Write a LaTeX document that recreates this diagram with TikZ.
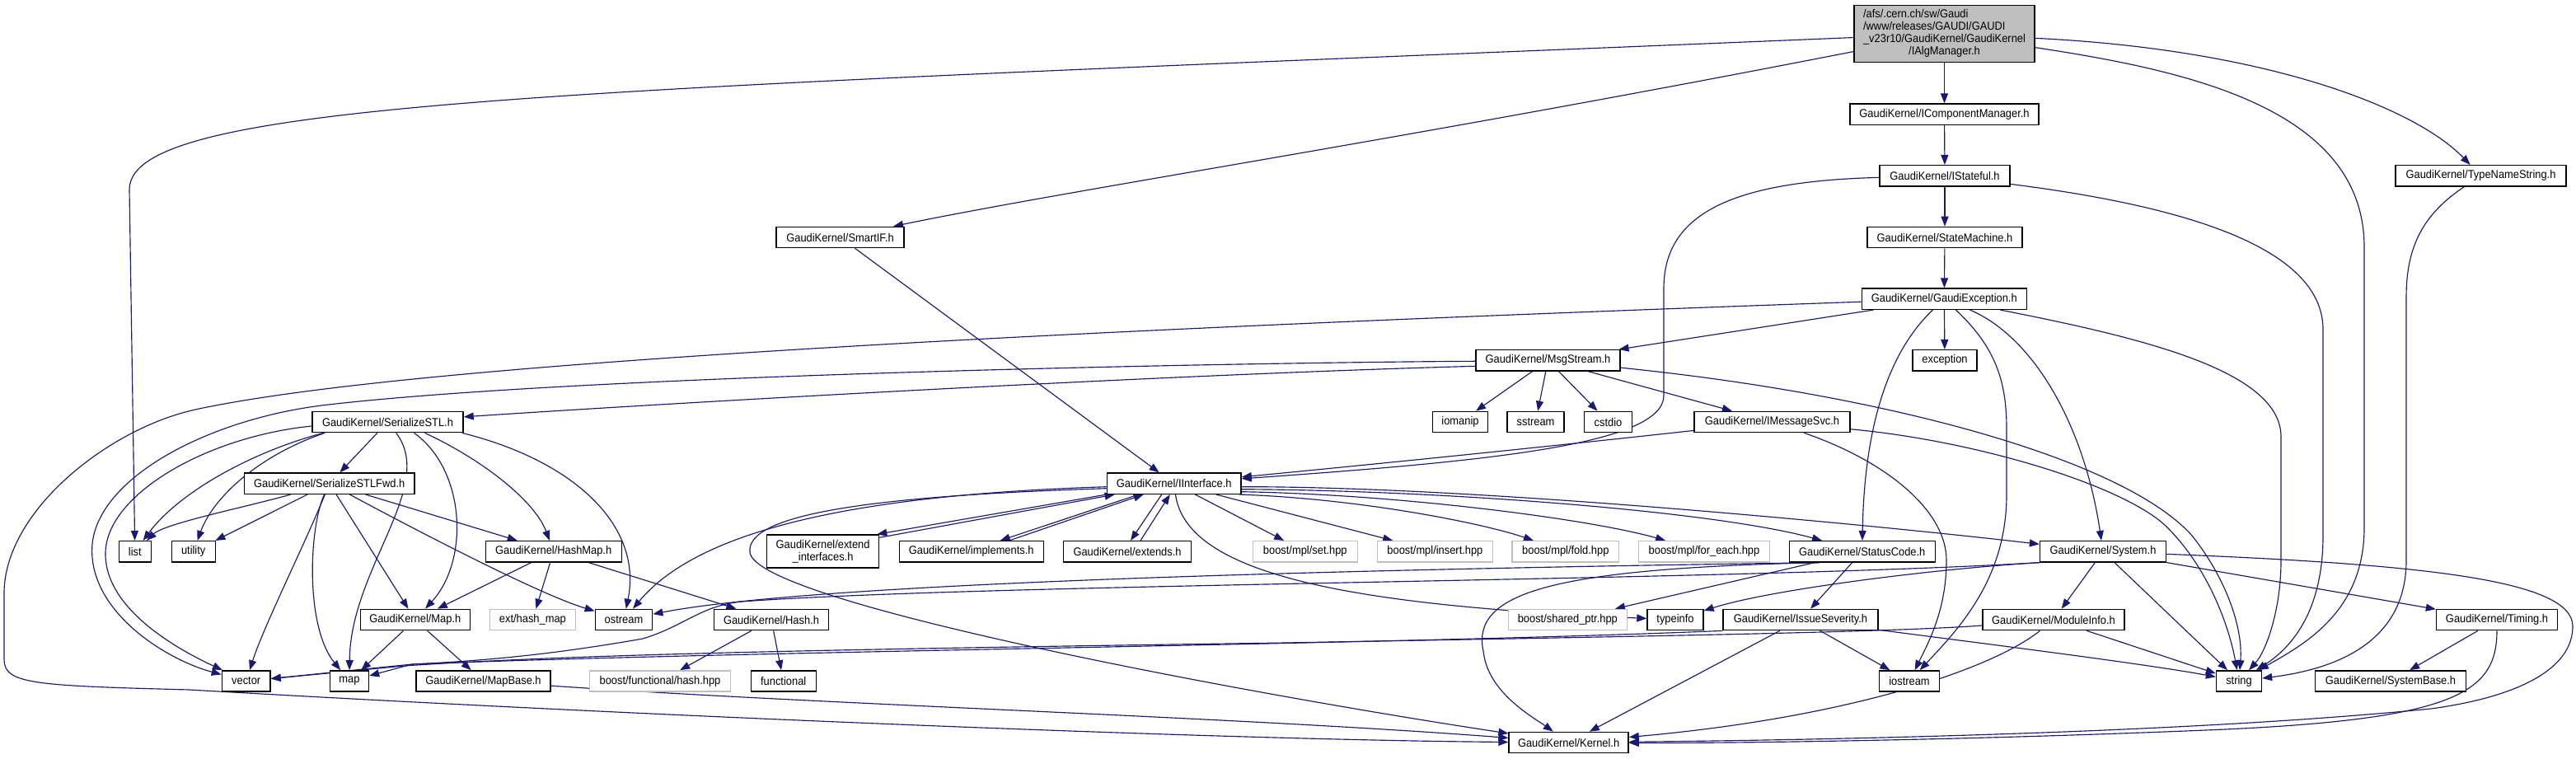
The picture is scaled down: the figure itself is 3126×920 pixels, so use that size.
\documentclass[tikz,border=0pt]{standalone}
\usepackage{fontspec}
\newfontfamily\dxfont{Liberation Sans}[FakeStretch=0.92]
\usetikzlibrary{arrows.meta}
\definecolor{edgeblue}{HTML}{191970}
\definecolor{nodegray}{HTML}{BFBFBF}
\definecolor{extgray}{HTML}{BFBFBF}
\newcommand\gkfont{\dxfont\fontsize{14bp}{14.8bp}\selectfont}
\pgfdeclarelayer{bgl}
\pgfdeclarelayer{edgel}
\pgfsetlayers{bgl,edgel,main}
\begin{document}
\begin{tikzpicture}[x=1bp,y=-1bp,
 nd/.style={draw=black, fill=white, line width=1.4bp, inner sep=0pt, minimum height=25.3bp, font=\gkfont},
 xnd/.style={nd, draw=extgray},
 e/.style={draw=edgeblue, line width=1.15bp, line join=round, -{Triangle[length=12bp,width=9bp]}}]
\begin{pgfonlayer}{bgl}
\fill[white] (0,0) rectangle (3126,920);
\end{pgfonlayer}
\useasboundingbox (0,0) rectangle (3126,920);
% rank 0
\node[nd, fill=nodegray, minimum width=219bp, minimum height=69bp] (main) at (2359.5,41)
 {\begin{tabular}{@{}l@{}}/afs/.cern.ch/sw/Gaudi\\/www/releases/GAUDI/GAUDI\\\_v23r10/GaudiKernel/GaudiKernel\\\multicolumn{1}{@{}c@{}}{/IAlgManager.h}\end{tabular}};
% rank 1-5
\node[nd, minimum width=229bp] (icm) at (2359.5,138.7) {GaudiKernel/IComponentManager.h};
\node[nd, minimum width=158bp] (istateful) at (2360,213.3) {GaudiKernel/IStateful.h};
\node[nd, minimum width=207bp] (typename) at (3010.5,213.3) {GaudiKernel/TypeNameString.h};
\node[nd, minimum width=188bp] (statemachine) at (2360,288) {GaudiKernel/StateMachine.h};
\node[nd, minimum width=155bp] (smartif) at (1019.5,288) {GaudiKernel/SmartIF.h};
\node[nd, minimum width=200bp] (gexc) at (2359.3,362.7) {GaudiKernel/GaudiException.h};
\node[nd, minimum width=175bp] (msgstream) at (1878.5,437.3) {GaudiKernel/MsgStream.h};
\node[nd, minimum width=78bp] (exception) at (2360,437.3) {exception};
% rank 6
\node[nd, minimum width=183bp] (serializestl) at (470.5,512) {GaudiKernel/SerializeSTL.h};
\node[nd, minimum width=67bp] (iomanip) at (1772,512) {iomanip};
\node[nd, minimum width=69bp] (sstream) at (1863.5,512) {sstream};
\node[nd, minimum width=57.5bp] (cstdio) at (1951.5,512) {cstdio};
\node[nd, minimum width=189bp] (imsgsvc) at (2150.5,512) {GaudiKernel/IMessageSvc.h};
% rank 7
\node[nd, minimum width=206.6bp] (fwd) at (399.7,586.7) {GaudiKernel/SerializeSTLFwd.h};
\node[nd, minimum width=162.7bp] (iinterface) at (1424.7,586.7) {GaudiKernel/IInterface.h};
% rank 8
\node[nd, minimum width=39bp] (list) at (163.8,669.3) {list};
\node[nd, minimum width=53bp] (utility) at (234.7,669.3) {utility};
\node[nd, minimum width=165bp] (hashmap) at (671.7,669.3) {GaudiKernel/HashMap.h};
\node[nd, minimum width=136bp, minimum height=40bp, align=center] (extint) at (998.6,669) {GaudiKernel/extend\\\_interfaces.h};
\node[nd, minimum width=175bp] (implements) at (1178.7,669.3) {GaudiKernel/implements.h};
\node[nd, minimum width=154.6bp] (extends) at (1368,669.3) {GaudiKernel/extends.h};
\node[xnd, minimum width=127bp] (mplset) at (1583.8,669.3) {boost/mpl/set.hpp};
\node[xnd, minimum width=140bp] (mplinsert) at (1741.4,669.3) {boost/mpl/insert.hpp};
\node[xnd, minimum width=129.6bp] (mplfold) at (1899.8,669.3) {boost/mpl/fold.hpp};
\node[xnd, minimum width=158.7bp] (mplforeach) at (2068,669.3) {boost/mpl/for\_each.hpp};
\node[nd, minimum width=177bp] (statuscode) at (2259.7,669.3) {GaudiKernel/StatusCode.h};
\node[nd, minimum width=153bp] (system) at (2552,669.3) {GaudiKernel/System.h};
% rank 9
\node[nd, minimum width=133bp] (maph) at (503.8,752) {GaudiKernel/Map.h};
\node[xnd, minimum width=104bp] (exthashmap) at (646.4,752) {ext/hash\_map};
\node[nd, minimum width=69.4bp] (ostream) at (757,752) {ostream};
\node[nd, minimum width=139bp] (hash) at (936,752) {GaudiKernel/Hash.h};
\node[xnd, minimum width=144bp] (sharedptr) at (1902.3,752) {boost/shared\_ptr.hpp};
\node[nd, minimum width=68bp] (typeinfo) at (2033,752) {typeinfo};
\node[nd, minimum width=188bp] (issuesev) at (2185,752) {GaudiKernel/IssueSeverity.h};
\node[nd, minimum width=172bp] (moduleinfo) at (2492,752) {GaudiKernel/ModuleInfo.h};
\node[nd, minimum width=147bp] (timing) at (3030,752) {GaudiKernel/Timing.h};
% rank 10
\node[nd, minimum width=58.7bp] (vector) at (298.7,826.5) {vector};
\node[nd, minimum width=47bp] (map) at (424,826.5) {map};
\node[nd, minimum width=163bp] (mapbase) at (586.5,826.5) {GaudiKernel/MapBase.h};
\node[xnd, minimum width=171bp] (boosthash) at (801,826.5) {boost/functional/hash.hpp};
\node[nd, minimum width=79bp] (functional) at (950.7,826.5) {functional};
\node[nd, minimum width=72.5bp] (iostream) at (2317,826.5) {iostream};
\node[nd, minimum width=55bp] (string) at (2717,826.5) {string};
\node[nd, minimum width=183bp] (systembase) at (2901,826.5) {GaudiKernel/SystemBase.h};
% rank 11
\node[nd, minimum width=145bp] (kernel) at (1903.6,901) {GaudiKernel/Kernel.h};

\begin{pgfonlayer}{edgel}
% main
\draw[e] (main) .. controls (700,110) and (157,120) .. (157,230) -- (list);
\draw[e] (main) .. controls (1700,170) and (1300,230) .. (smartif);
\draw[e] (main) -- (icm);
\draw[e] (main) .. controls (2750,60) and (2930,130) .. (typename);
\draw[e] (main) .. controls (2650,85) and (2869,130) .. (2869,300) -- (2869,640) .. controls (2869,740) and (2800,780) .. (string);
% spine
\draw[e] (icm) -- (istateful);
\draw[e] (istateful) -- (statemachine);
\draw[e] (statemachine) -- (gexc);
\draw[e] (gexc) -- (exception);
\draw[e] (istateful) .. controls (2100,220) and (2019,260) .. (2019,350) -- (2019,480) .. controls (2019,540) and (1800,560) .. (iinterface);
\draw[e] (istateful) .. controls (2650,250) and (2819,300) .. (2819,400) -- (2819,650) .. controls (2819,730) and (2790,780) .. (string);
\draw[e] (typename) .. controls (2940,260) and (2920,300) .. (2920,360) -- (2920,680) .. controls (2920,770) and (2850,810) .. (string);
\draw[e] (smartif) -- (iinterface);
% GaudiException
\draw[e] (gexc) -- (msgstream);
\draw[e] (gexc) .. controls (1300,400) and (500,440) .. (237,497) .. controls (132,520) and (5,620) .. (5,720) -- (5,800) .. controls (5,830) and (40,832) .. (230,837) .. controls (800,870) and (1500,898) .. (kernel);
\draw[e] (gexc) .. controls (2310,410) and (2263,480) .. (statuscode);
\draw[e] (gexc) .. controls (2420,420) and (2435,460) .. (2435,520) -- (2435,600) .. controls (2435,700) and (2380,760) .. (iostream);
\draw[e] (gexc) .. controls (2470,410) and (2530,520) .. (system);
\draw[e] (gexc) .. controls (2600,410) and (2768,450) .. (2768,530) -- (2768,680) .. controls (2768,740) and (2750,790) .. (string);
% MsgStream
\draw[e] (msgstream) -- (iomanip);
\draw[e] (msgstream) -- (sstream);
\draw[e] (msgstream) -- (cstdio);
\draw[e] (msgstream) -- (imsgsvc);
\draw[e] (msgstream) .. controls (2300,480) and (2580,560) .. (2660,650) .. controls (2700,700) and (2722,760) .. (string);
\draw[e] ([yshift=-7bp]msgstream.west) .. controls (1400,455) and (800,490) .. (serializestl);
\draw[e] ([yshift=-1bp]msgstream.west) .. controls (1500,440) and (700,455) .. (390,492) .. controls (250,510) and (120,580) .. (112,660) .. controls (105,740) and (200,800) .. (vector);
% IMessageSvc
\draw[e] (imsgsvc) .. controls (2400,535) and (2580,590) .. (2630,640) .. controls (2680,690) and (2705,760) .. (string);
\draw[e] (imsgsvc) .. controls (1850,545) and (1650,565) .. (iinterface);
\draw[e] (imsgsvc) .. controls (2290,560) and (2362,620) .. (2362,680) .. controls (2362,740) and (2340,780) .. (iostream);
% SerializeSTL
\draw[e] (serializestl) -- (fwd);
\draw[e] ([xshift=14bp]serializestl.south west) .. controls (300,550) and (215,600) .. (list);
\draw[e] ([xshift=16bp]serializestl.south west) .. controls (320,550) and (260,600) .. (utility);
\draw[e] ([yshift=-5bp]serializestl.west) .. controls (250,530) and (130,600) .. (128,670) .. controls (126,740) and (220,790) .. (vector);
\draw[e] (serializestl) .. controls (530,590) and (425,690) .. (map);
\draw[e] ([xshift=32bp]serializestl.south) .. controls (565,570) and (570,680) .. (maph);
\draw[e] ([xshift=45bp]serializestl.south) .. controls (590,560) and (650,610) .. (hashmap);
\draw[e] ([xshift=-2bp]serializestl.south east) .. controls (700,560) and (780,640) .. (ostream);
% SerializeSTLFwd
\draw[e] (fwd) .. controls (300,615) and (200,635) .. (list);
\draw[e] (fwd) -- (utility);
\draw[e] (fwd) .. controls (370,660) and (320,760) .. (vector);
\draw[e] (fwd) .. controls (375,640) and (370,760) .. (map);
\draw[e] (fwd) -- (maph);
\draw[e] (fwd) .. controls (480,630) and (650,720) .. (ostream);
\draw[e] (fwd) -- (hashmap);
% HashMap, Map, Hash
\draw[e] (hashmap) -- (maph);
\draw[e] (hashmap) -- (exthashmap);
\draw[e] (hashmap) -- (hash);
\draw[e] (maph) -- (map);
\draw[e] (maph) -- (mapbase);
\draw[e] (mapbase) .. controls (1000,855) and (1500,870) .. (kernel);
\draw[e] (hash) -- (boosthash);
\draw[e] (hash) -- (functional);
% IInterface
\draw[e] (iinterface.south west) -- ([xshift=-3bp]extint.north east);
\draw[e] ([yshift=-4bp]extint.north east) -- ([xshift=10bp]iinterface.south west);
\draw[e] ([xshift=39bp]iinterface.south west) -- ([xshift=35bp]implements.north);
\draw[e] ([xshift=46bp]implements.north) -- ([xshift=45bp]iinterface.south west);
\draw[e] ([xshift=-15bp]iinterface.south) -- ([xshift=4bp]extends.north);
\draw[e] ([xshift=16bp]extends.north) -- ([xshift=-5bp]iinterface.south);
\draw[e] (iinterface) -- (mplset);
\draw[e] (iinterface) -- (mplinsert);
\draw[e] ([xshift=-3bp]iinterface.south east) .. controls (1650,605) and (1800,635) .. (mplfold);
\draw[e] ([yshift=-10bp]iinterface.east) .. controls (1700,600) and (1930,630) .. (mplforeach);
\draw[e] ([yshift=-7bp]iinterface.east) .. controls (1750,595) and (2080,620) .. (statuscode);
\draw[e] ([yshift=-4bp]iinterface.east) .. controls (1800,590) and (2300,640) .. (system);
\draw[e] ([yshift=-4bp]iinterface.west) .. controls (1050,600) and (850,640) .. (ostream);
\draw[e] ([yshift=-6bp]iinterface.west) .. controls (1050,602) and (905,625) .. (910,670) .. controls (915,730) and (1500,840) .. (kernel);
\draw[e] (iinterface) .. controls (1440,700) and (1650,735) .. (typeinfo);
% StatusCode
\draw[e] ([xshift=-52bp]statuscode.south) .. controls (1880,690) and (1785,720) .. (1800,790) .. controls (1805,840) and (1860,870) .. (kernel);
\draw[e] (statuscode) -- (sharedptr);
\draw[e] (statuscode) -- (issuesev);
\draw[e] ([xshift=-52bp]statuscode.south) .. controls (1700,690) and (1000,705) .. (ostream);
% System
\draw[e] (system) -- (moduleinfo);
\draw[e] (system) -- (string);
\draw[e] (system) -- (timing);
\draw[e] (system) .. controls (2950,685) and (3122,705) .. (3122,760) .. controls (3122,810) and (3060,845) .. (2950,860) .. controls (2650,890) and (2200,898) .. (kernel);
\draw[e] (system.south west) .. controls (2350,690) and (2150,715) .. (typeinfo);
\draw[e] (system.south west) .. controls (2100,705) and (1200,708) .. (900,730) .. controls (850,735) and (830,760) .. (780,775) .. controls (650,798) and (560,803) .. (500,806) -- (vector);
% IssueSeverity
\draw[e] (issuesev) -- (kernel);
\draw[e] (issuesev) -- (iostream);
\draw[e] (issuesev) .. controls (2400,780) and (2600,805) .. (string);
\draw[e] (issuesev.south west) .. controls (1700,782) and (900,790) .. (500,806) -- (map);
% ModuleInfo
\draw[e] (moduleinfo) .. controls (2420,810) and (2250,870) .. (kernel);
\draw[e] (moduleinfo) -- (string);
\draw[e] ([yshift=-7bp]moduleinfo.west) .. controls (2300,767) and (2000,772) .. (1560,780) .. controls (1000,788) and (700,794) .. (490,808) -- (vector);
% Timing
\draw[e] (timing) -- (systembase);
\draw[e] (timing) .. controls (3030,840) and (2980,872) .. (2700,885) .. controls (2400,898) and (2100,902) .. (kernel);
\end{pgfonlayer}
\end{tikzpicture}
\end{document}
